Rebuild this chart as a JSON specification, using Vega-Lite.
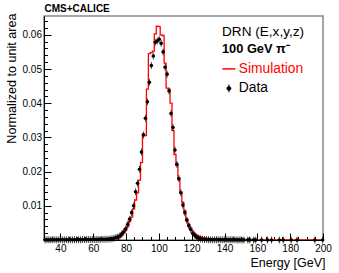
{
  "$schema": "https://vega.github.io/schema/vega-lite/v6.json",
  "width": 279,
  "height": 224,
  "autosize": {"type": "none"},
  "padding": {"left": 44, "top": 16, "right": 16, "bottom": 33},
  "background": "white",
  "config": {
    "font": "Liberation Sans",
    "view": {"stroke": "#888888", "strokeWidth": 1.5},
    "axis": {"grid": false, "labelFont": "Liberation Sans", "titleFont": "Liberation Sans", "labelColor": "#000000", "titleColor": "#000000", "domainColor": "#000000", "tickColor": "#000000"}
  },
  "title": {
    "text": "DRN (E,x,y,z)",
    "subtitle": "100 GeV π⁻",
    "anchor": "start",
    "frame": "group",
    "orient": "top",
    "offset": -53,
    "dx": 178,
    "font": "Liberation Sans",
    "fontSize": 13.6,
    "fontWeight": "normal",
    "color": "#000000",
    "subtitleFont": "Liberation Sans",
    "subtitleFontSize": 12.8,
    "subtitleFontWeight": "bold",
    "subtitleColor": "#000000",
    "subtitlePadding": 5
  },
  "datasets": {
    "sim": [
      {"energy": 30.6, "value": 0.00005}, {"energy": 31.8, "value": 0.00005}, {"energy": 33.0, "value": 0.00005}, {"energy": 34.2, "value": 0.00005},
      {"energy": 35.4, "value": 0.00005}, {"energy": 36.6, "value": 0.00005}, {"energy": 37.8, "value": 0.00005}, {"energy": 39.0, "value": 0.00005},
      {"energy": 40.2, "value": 0.00005}, {"energy": 41.4, "value": 0.00008}, {"energy": 42.6, "value": 0.00005}, {"energy": 43.8, "value": 0.00005},
      {"energy": 45.0, "value": 0.00008}, {"energy": 46.2, "value": 0.00005}, {"energy": 47.4, "value": 0.00008}, {"energy": 48.6, "value": 0.0001},
      {"energy": 49.8, "value": 0.0003}, {"energy": 51.0, "value": 0.0001}, {"energy": 52.2, "value": 0.00008}, {"energy": 53.4, "value": 0.0001},
      {"energy": 54.6, "value": 0.0001}, {"energy": 55.8, "value": 0.0001}, {"energy": 57.0, "value": 0.0001}, {"energy": 58.2, "value": 0.0001},
      {"energy": 59.4, "value": 0.00012}, {"energy": 60.6, "value": 0.0003}, {"energy": 61.8, "value": 0.00025}, {"energy": 63.0, "value": 0.00015},
      {"energy": 64.2, "value": 0.00015}, {"energy": 65.4, "value": 0.0003}, {"energy": 66.6, "value": 0.00035}, {"energy": 67.8, "value": 0.0002},
      {"energy": 69.0, "value": 0.0002}, {"energy": 70.2, "value": 0.00022}, {"energy": 71.4, "value": 0.00025}, {"energy": 72.6, "value": 0.0003},
      {"energy": 73.8, "value": 0.0004}, {"energy": 75.0, "value": 0.0006}, {"energy": 76.2, "value": 0.0008}, {"energy": 77.4, "value": 0.0013},
      {"energy": 78.6, "value": 0.002}, {"energy": 79.8, "value": 0.0029}, {"energy": 81.0, "value": 0.0039}, {"energy": 82.2, "value": 0.0054},
      {"energy": 83.4, "value": 0.0067}, {"energy": 84.6, "value": 0.0091}, {"energy": 85.8, "value": 0.0117}, {"energy": 87.0, "value": 0.0138},
      {"energy": 88.2, "value": 0.0175}, {"energy": 89.4, "value": 0.0226}, {"energy": 90.6, "value": 0.031}, {"energy": 91.8, "value": 0.0305},
      {"energy": 93.0, "value": 0.0441}, {"energy": 94.2, "value": 0.0545}, {"energy": 95.4, "value": 0.0548}, {"energy": 96.6, "value": 0.0552},
      {"energy": 97.8, "value": 0.0603}, {"energy": 99.0, "value": 0.0625}, {"energy": 100.2, "value": 0.0624}, {"energy": 101.4, "value": 0.06},
      {"energy": 102.6, "value": 0.0598}, {"energy": 103.8, "value": 0.0517}, {"energy": 105.0, "value": 0.0444}, {"energy": 106.2, "value": 0.0441},
      {"energy": 107.4, "value": 0.04}, {"energy": 108.6, "value": 0.032}, {"energy": 109.8, "value": 0.025}, {"energy": 111.0, "value": 0.0218},
      {"energy": 112.2, "value": 0.0176}, {"energy": 113.4, "value": 0.014}, {"energy": 114.6, "value": 0.011}, {"energy": 115.8, "value": 0.0085},
      {"energy": 117.0, "value": 0.0062}, {"energy": 118.2, "value": 0.0046}, {"energy": 119.4, "value": 0.0035}, {"energy": 120.6, "value": 0.0026},
      {"energy": 121.8, "value": 0.0019}, {"energy": 123.0, "value": 0.0014}, {"energy": 124.2, "value": 0.0011}, {"energy": 125.4, "value": 0.0009},
      {"energy": 126.6, "value": 0.0007}, {"energy": 127.8, "value": 0.0006}, {"energy": 129.0, "value": 0.0005}, {"energy": 130.2, "value": 0.0004},
      {"energy": 131.4, "value": 0.00035}, {"energy": 132.6, "value": 0.0003}, {"energy": 133.8, "value": 0.00032}, {"energy": 135.0, "value": 0.00028},
      {"energy": 136.2, "value": 0.0003}, {"energy": 137.4, "value": 0.00025}, {"energy": 138.6, "value": 0.0002}, {"energy": 139.8, "value": 0.0002},
      {"energy": 141.0, "value": 0.00015}, {"energy": 142.2, "value": 0.00015}, {"energy": 143.4, "value": 0.00012}, {"energy": 144.6, "value": 0.0001},
      {"energy": 145.8, "value": 0.0001}, {"energy": 147.0, "value": 0.00008}, {"energy": 148.2, "value": 0.0001}, {"energy": 149.4, "value": 0.00006},
      {"energy": 150.6, "value": 0.00012}, {"energy": 151.8, "value": 0.00005}, {"energy": 153.0, "value": 0.00005}, {"energy": 154.2, "value": 0.00006},
      {"energy": 155.4, "value": 0.00005}, {"energy": 156.6, "value": 0.0001}, {"energy": 157.8, "value": 0.0002}, {"energy": 159.0, "value": 0.00005},
      {"energy": 160.2, "value": 0.00005}, {"energy": 161.4, "value": 0.00004}, {"energy": 162.6, "value": 0.00005}, {"energy": 163.8, "value": 0.00004},
      {"energy": 165.0, "value": 0.00004}, {"energy": 166.2, "value": 0.00005}, {"energy": 167.4, "value": 0.00004}, {"energy": 168.6, "value": 0.00004},
      {"energy": 169.8, "value": 0.00008}, {"energy": 171.0, "value": 0.00004}, {"energy": 172.2, "value": 0.00004}, {"energy": 173.4, "value": 0.00004},
      {"energy": 174.6, "value": 0.00003}, {"energy": 175.8, "value": 0.00004}, {"energy": 177.0, "value": 0.00003}, {"energy": 178.2, "value": 0.00003},
      {"energy": 179.4, "value": 0.00003}, {"energy": 180.6, "value": 0.00004}, {"energy": 181.8, "value": 0.00003}, {"energy": 183.0, "value": 0.00003},
      {"energy": 184.2, "value": 0.00003}, {"energy": 185.4, "value": 0.00003}, {"energy": 186.6, "value": 0.00003}, {"energy": 187.8, "value": 0.00003},
      {"energy": 189.0, "value": 0.00003}, {"energy": 190.2, "value": 0.00003}, {"energy": 191.4, "value": 0.00003}, {"energy": 192.6, "value": 0.00003},
      {"energy": 193.8, "value": 0.00003}, {"energy": 195.0, "value": 0.00003}, {"energy": 196.2, "value": 0.00003}, {"energy": 197.4, "value": 0.00003},
      {"energy": 198.6, "value": 0.00003}, {"energy": 199.8, "value": 0.00003}
    ],
    "data": [
      {"energy": 30.6, "value": 0.00005}, {"energy": 31.8, "value": 0.00005}, {"energy": 33.0, "value": 0.00004}, {"energy": 34.2, "value": 0.00005},
      {"energy": 35.4, "value": 0.00005}, {"energy": 36.6, "value": 0.00006}, {"energy": 37.8, "value": 0.00005}, {"energy": 39.0, "value": 0.00006},
      {"energy": 40.2, "value": 0.00006}, {"energy": 41.4, "value": 0.00007}, {"energy": 42.6, "value": 0.00006}, {"energy": 43.8, "value": 0.00007},
      {"energy": 45.0, "value": 0.00008}, {"energy": 46.2, "value": 0.00007}, {"energy": 47.4, "value": 0.00008}, {"energy": 48.6, "value": 0.00009},
      {"energy": 49.8, "value": 0.00009}, {"energy": 51.0, "value": 0.0001}, {"energy": 52.2, "value": 0.0001}, {"energy": 53.4, "value": 0.00011},
      {"energy": 54.6, "value": 0.00011}, {"energy": 55.8, "value": 0.00012}, {"energy": 57.0, "value": 0.00013}, {"energy": 58.2, "value": 0.00013},
      {"energy": 59.4, "value": 0.00014}, {"energy": 60.6, "value": 0.00015}, {"energy": 61.8, "value": 0.00016}, {"energy": 63.0, "value": 0.00017},
      {"energy": 64.2, "value": 0.00018}, {"energy": 65.4, "value": 0.0002}, {"energy": 66.6, "value": 0.00019}, {"energy": 67.8, "value": 0.00022},
      {"energy": 69.0, "value": 0.00025}, {"energy": 70.2, "value": 0.0003}, {"energy": 71.4, "value": 0.0004}, {"energy": 72.6, "value": 0.0005},
      {"energy": 73.8, "value": 0.0007}, {"energy": 75.0, "value": 0.0009}, {"energy": 76.2, "value": 0.0012}, {"energy": 77.4, "value": 0.0018},
      {"energy": 78.6, "value": 0.0024}, {"energy": 79.8, "value": 0.0033}, {"energy": 81.0, "value": 0.0046}, {"energy": 82.2, "value": 0.0061},
      {"energy": 83.4, "value": 0.008}, {"energy": 84.6, "value": 0.01}, {"energy": 85.8, "value": 0.0141}, {"energy": 87.0, "value": 0.0166},
      {"energy": 88.2, "value": 0.0207}, {"energy": 89.4, "value": 0.0257}, {"energy": 90.6, "value": 0.0307}, {"energy": 91.8, "value": 0.0356},
      {"energy": 93.0, "value": 0.0404}, {"energy": 94.2, "value": 0.0461}, {"energy": 95.4, "value": 0.051}, {"energy": 96.6, "value": 0.0538},
      {"energy": 97.8, "value": 0.0578}, {"energy": 99.0, "value": 0.0582}, {"energy": 100.2, "value": 0.0587}, {"energy": 101.4, "value": 0.0575},
      {"energy": 102.6, "value": 0.055}, {"energy": 103.8, "value": 0.0505}, {"energy": 105.0, "value": 0.0485}, {"energy": 106.2, "value": 0.0436},
      {"energy": 107.4, "value": 0.037}, {"energy": 108.6, "value": 0.0329}, {"energy": 109.8, "value": 0.0263}, {"energy": 111.0, "value": 0.0221},
      {"energy": 112.2, "value": 0.018}, {"energy": 113.4, "value": 0.0138}, {"energy": 114.6, "value": 0.0102}, {"energy": 115.8, "value": 0.008},
      {"energy": 117.0, "value": 0.0058}, {"energy": 118.2, "value": 0.0042}, {"energy": 119.4, "value": 0.0031}, {"energy": 120.6, "value": 0.0019},
      {"energy": 121.8, "value": 0.0014}, {"energy": 123.0, "value": 0.0008}, {"energy": 124.2, "value": 0.0005}, {"energy": 125.4, "value": 0.0003},
      {"energy": 126.6, "value": 0.0002}, {"energy": 127.8, "value": 0.00015}, {"energy": 129.0, "value": 0.00012}, {"energy": 130.2, "value": 0.0001},
      {"energy": 131.4, "value": 0.0001}, {"energy": 132.6, "value": 0.00009}, {"energy": 133.8, "value": 0.00008}, {"energy": 135.0, "value": 0.00008},
      {"energy": 136.2, "value": 0.00007}, {"energy": 137.4, "value": 0.00006}, {"energy": 138.6, "value": 0.00006}, {"energy": 139.8, "value": 0.00005},
      {"energy": 141.0, "value": 0.00005}, {"energy": 142.2, "value": 0.00005}, {"energy": 143.4, "value": 0.00004}, {"energy": 144.6, "value": 0.00004},
      {"energy": 145.8, "value": 0.00004}, {"energy": 147.0, "value": 0.00004}, {"energy": 148.2, "value": 0.00003}, {"energy": 149.4, "value": 0.00004},
      {"energy": 150.6, "value": 0.00003}, {"energy": 151.8, "value": 0.00003}, {"energy": 154.2, "value": 0.00003}, {"energy": 155.4, "value": 0.00003},
      {"energy": 157.8, "value": 0.00003}, {"energy": 159.0, "value": 0.00002}, {"energy": 162.6, "value": 0.00002}, {"energy": 166.2, "value": 0.00002},
      {"energy": 168.6, "value": 0.00002}, {"energy": 173.4, "value": 0.00002}, {"energy": 175.8, "value": 0.00002}, {"energy": 180.6, "value": 0.00002},
      {"energy": 184.2, "value": 0.00002}, {"energy": 195.0, "value": 0.00002}, {"energy": 199.8, "value": 0.00002}
    ]
  },
  "layer": [
    {
      "data": {"name": "sim"},
      "mark": {"type": "line", "interpolate": "step", "strokeWidth": 1.3, "clip": true},
      "encoding": {
        "x": {
          "field": "energy", "type": "quantitative",
          "scale": {"domain": [30, 200], "nice": false, "zero": false},
          "axis": {
            "orient": "bottom",
            "values": [40, 60, 80, 100, 120, 140, 160, 180, 200],
            "tickSize": -7,
            "labelOverlap": false,
            "labelFlush": false,
            "labelBound": false,
            "labelFontSize": 10,
            "labelPadding": 10,
            "domainWidth": 1,
            "tickWidth": 1,
            "title": "Energy [GeV]",
            "titleFontSize": 12.5,
            "titleFontWeight": "normal",
            "titleAnchor": "end",
            "titleAlign": "right",
            "titleBaseline": "alphabetic",
            "titleX": 281,
            "titleY": 26
          }
        },
        "y": {
          "field": "value", "type": "quantitative",
          "scale": {"domain": [0, 0.0655], "nice": false, "zero": true},
          "axis": {
            "orient": "left",
            "values": [0.01, 0.02, 0.03, 0.04, 0.05, 0.06],
            "format": ".2f",
            "tickSize": -7,
            "labelOverlap": false,
            "labelFlush": false,
            "labelBound": false,
            "labelFontSize": 10,
            "labelPadding": 9.5,
            "domainWidth": 1,
            "tickWidth": 1,
            "title": "Normalized to unit area",
            "titleFontSize": 12.6,
            "titleFontWeight": "normal",
            "titleAnchor": "end",
            "titleAlign": "right",
            "titleAngle": -90,
            "titleBaseline": "alphabetic",
            "titleX": -29,
            "titleY": -3
          }
        },
        "color": {
          "datum": "Simulation", "type": "nominal",
          "scale": {"domain": ["Simulation", "Data"], "range": ["#ff0000", "#000000"]},
          "legend": {
            "orient": "none",
            "legendX": 178,
            "legendY": 46,
            "title": null,
            "padding": 0,
            "labelFont": "Liberation Sans",
            "labelFontSize": 13.8,
            "labelOffset": 3,
            "rowPadding": 4.5,
            "symbolSize": 169,
            "symbolStrokeWidth": 1.5,
            "encode": {
              "symbols": {
                "update": {
                  "shape": {"signal": "datum.value === 'Simulation' ? 'stroke' : 'M0,-0.6V0.6M-0.3,0A0.3,0.3 0 1,0 0.3,0A0.3,0.3 0 1,0 -0.3,0Z'"},
                  "stroke": {"signal": "datum.value === 'Simulation' ? '#ff0000' : '#000000'"},
                  "fill": {"signal": "datum.value === 'Simulation' ? 'transparent' : '#000000'"},
                  "strokeWidth": {"signal": "datum.value === 'Simulation' ? 1.5 : 1"},
                  "opacity": {"value": 1}
                }
              },
              "labels": {
                "update": {
                  "fill": {"signal": "datum.value === 'Simulation' ? '#ff0000' : '#000000'"}
                }
              }
            }
          }
        }
      }
    },
    {
      "data": {"name": "data"},
      "mark": {"type": "tick", "orient": "vertical", "size": 7, "thickness": 1, "color": "#000000"},
      "encoding": {
        "x": {
          "field": "energy", "type": "quantitative",
          "axis": {
            "orient": "bottom",
            "values": [35, 45, 50, 55, 65, 70, 75, 85, 90, 95, 105, 110, 115, 125, 130, 135, 145, 150, 155, 165, 170, 175, 185, 190, 195],
            "tickSize": -3.5,
            "tickWidth": 1,
            "labels": false,
            "domain": false,
            "title": null
          }
        },
        "y": {
          "field": "value", "type": "quantitative",
          "axis": {
            "orient": "left",
            "values": [0.002, 0.004, 0.006, 0.008, 0.012, 0.014, 0.016, 0.018, 0.022, 0.024, 0.026, 0.028, 0.032, 0.034, 0.036, 0.038, 0.042, 0.044, 0.046, 0.048, 0.052, 0.054, 0.056, 0.058, 0.062, 0.064],
            "tickSize": -3.5,
            "tickWidth": 1,
            "labels": false,
            "domain": false,
            "title": null
          }
        }
      }
    },
    {
      "data": {"name": "data"},
      "mark": {"type": "point", "filled": true, "size": 13, "opacity": 1},
      "encoding": {
        "x": {
          "field": "energy", "type": "quantitative",
          "axis": {
            "orient": "top",
            "ticks": false,
            "labels": false,
            "domain": false,
            "title": "CMS+CALICE",
            "titleFontSize": 10,
            "titleFontWeight": "bold",
            "titleAnchor": "start",
            "titleAlign": "left",
            "titlePadding": 3
          }
        },
        "y": {"field": "value", "type": "quantitative", "axis": null},
        "color": {"datum": "Data", "type": "nominal"}
      }
    }
  ],
  "resolve": {"axis": {"x": "independent", "y": "independent"}}
}
